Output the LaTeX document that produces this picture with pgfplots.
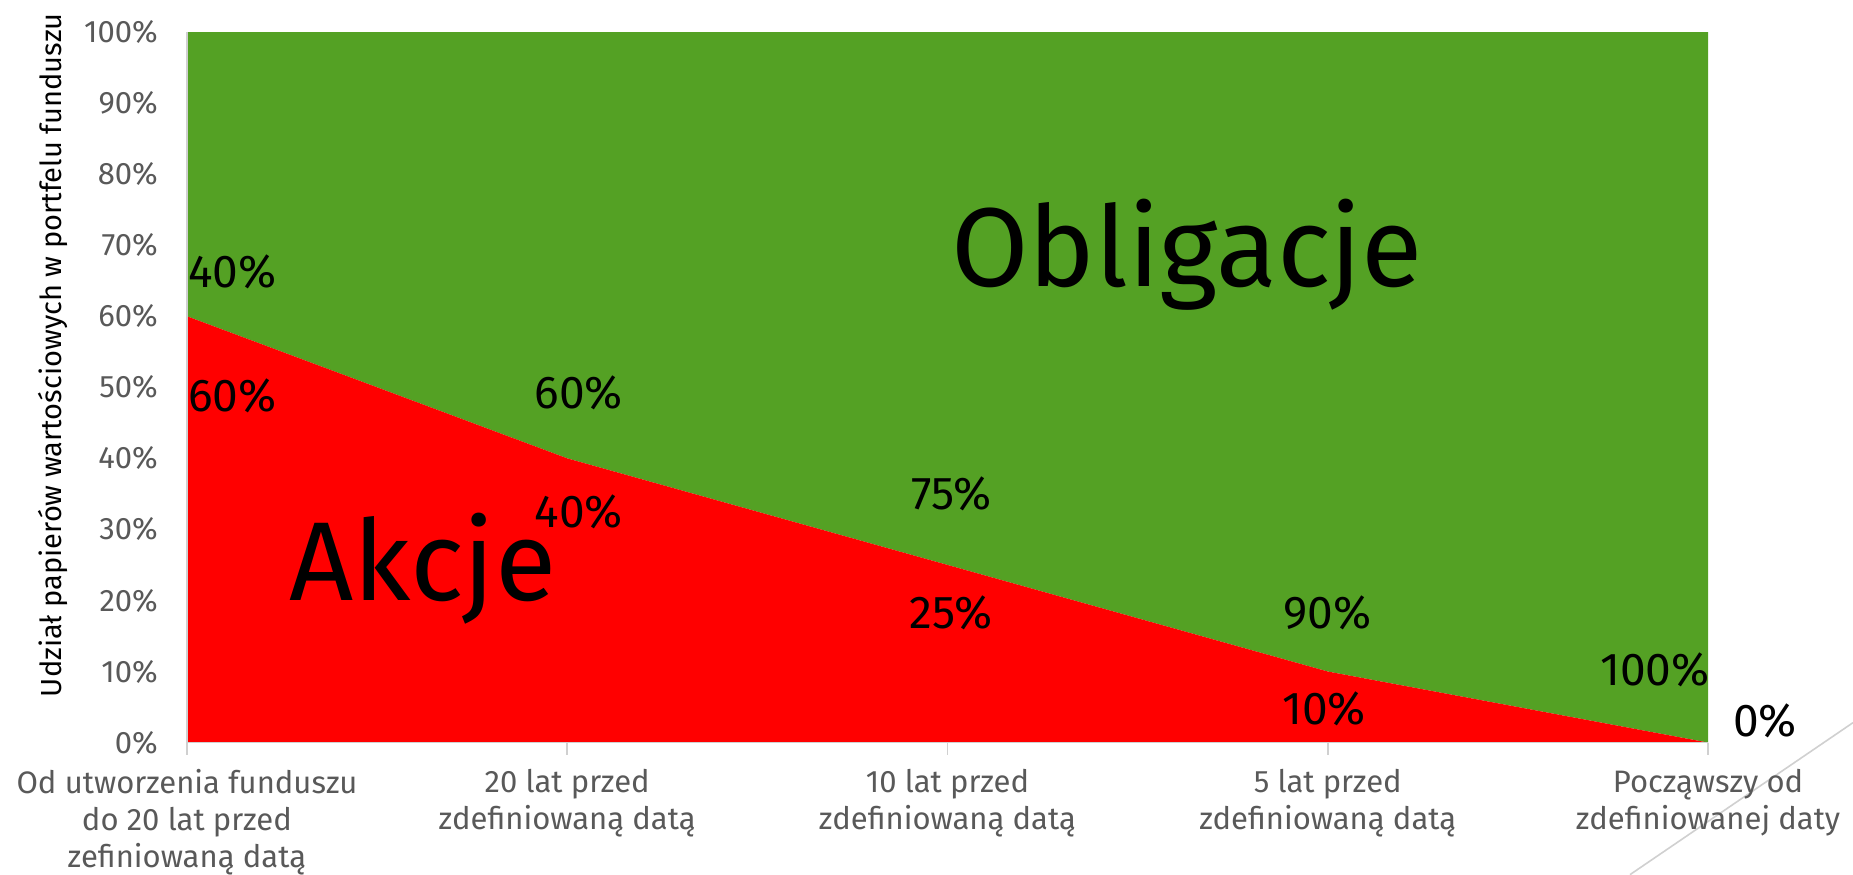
\documentclass[border=0pt]{standalone}
\usepackage{pgfplots}
\pgfplotsset{compat=1.18}
\usepackage{fontspec}
\setmainfont{Fira Sans}
\definecolor{Akcje}{HTML}{FF0000}
\definecolor{Oblig}{HTML}{54A124}
\definecolor{TickGray}{HTML}{595959}
\definecolor{AxisGray}{HTML}{D0D0D0}

\tikzset{
  lbl/.style={font=\fontsize{23}{28}\selectfont, text=black},
  big/.style={font=\fontsize{56}{64}\selectfont, text=black},
}

\begin{document}
\begin{tikzpicture}
  \begin{axis}[
      scale only axis,
      width=760pt, height=355pt,
      stack plots=y,
      area style,
      xmin=0, xmax=4,
      ymin=0, ymax=100,
      xtick={0,1,2,3,4},
      xticklabels={
        {Od utworzenia funduszu\\do 20 lat przed\\zefiniowaną datą},
        {20 lat przed\\zdefiniowaną datą},
        {10 lat przed\\zdefiniowaną datą},
        {5 lat przed\\zdefiniowaną datą},
        {Począwszy od\\zdefiniowanej daty}},
      xticklabel style={align=center, font=\fontsize{15.5}{18.5}\selectfont,
        text=TickGray, yshift=-4pt},
      ytick={0,10,...,100},
      yticklabel={\pgfmathprintnumber{\tick}\%\rule{5pt}{0pt}},
      yticklabel style={font=\fontsize{15.5}{18}\selectfont, text=TickGray},
      /pgf/number format/assume math mode=true,
      ylabel={Udział papierów wartościowych w portfelu funduszu},
      ylabel style={font=\fontsize{14.5}{17}\selectfont,
        at={(rel axis cs:-0.088,0.545)}, anchor=center},
      axis line style={AxisGray, line width=0.8pt},
      axis x line*=bottom,
      axis y line*=left,
      x axis line style={-},
      y axis line style={-},
      xtick style={AxisGray, line width=0.8pt},
      major tick length=6pt,
      tick align=outside,
      ytick style={draw=none},
      clip=false,
      axis on top,
    ]
    % Akcje (bottom) and Obligacje (top)
    \addplot[fill=Akcje, draw=none] coordinates {
      (0,60) (1,40) (2,25) (3,10) (4,0)
    } \closedcycle;
    \addplot[fill=Oblig, draw=none] coordinates {
      (0,40) (1,60) (2,75) (3,90) (4,100)
    } \closedcycle;

    % anchor points for the labels (drawn after the axis)
    \coordinate (o0) at (axis cs:0.12,66.3);
    \coordinate (a0) at (axis cs:0.12,48.8);
    \coordinate (o1) at (axis cs:1.03,49.2);
    \coordinate (a1) at (axis cs:1.03,32.5);
    \coordinate (o2) at (axis cs:2.01,35.0);
    \coordinate (a2) at (axis cs:2.01,18.3);
    \coordinate (o3) at (axis cs:3.0,18.3);
    \coordinate (a3) at (axis cs:2.99,4.7);
    \coordinate (o4) at (axis cs:3.86,10.3);
    \coordinate (a4) at (axis cs:4.15,3.0);
    \coordinate (akc) at (axis cs:0.62,24.5);
    \coordinate (obl) at (axis cs:2.63,68.6);

    \draw[AxisGray, line width=0.8pt]
      (rel axis cs:1.0953,0.028) -- (rel axis cs:0.9487,-0.1859);

    \coordinate (bl) at (rel axis cs:-0.1229,-0.1859);
    \coordinate (tr) at (rel axis cs:1.0953,1.0451);
  \end{axis}

  \node[lbl] at (o0) {40\%};
  \node[lbl] at (a0) {60\%};
  \node[lbl] at (o1) {60\%};
  \node[lbl] at (a1) {40\%};
  \node[lbl] at (o2) {75\%};
  \node[lbl] at (a2) {25\%};
  \node[lbl] at (o3) {90\%};
  \node[lbl] at (a3) {10\%};
  \node[lbl] at (o4) {100\%};
  \node[lbl] at (a4) {0\%};
  \node[big] at (akc) {Akcje};
  \node[big] at (obl) {Obligacje};

  \pgfresetboundingbox
  \path[use as bounding box] (bl) rectangle (tr);
\end{tikzpicture}
\end{document}
